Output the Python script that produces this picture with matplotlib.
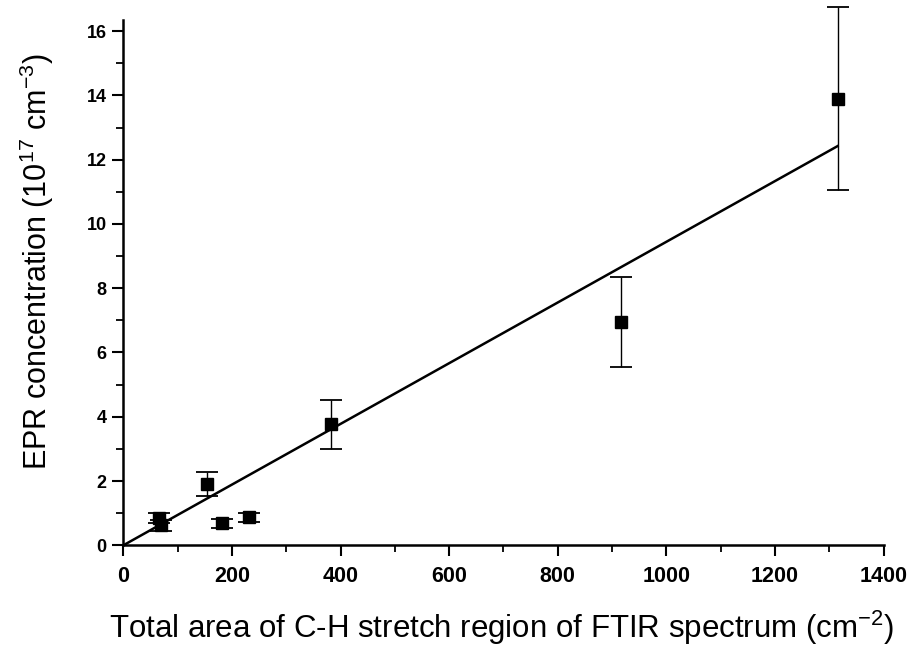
import matplotlib
matplotlib.use('Agg')
import matplotlib.pyplot as plt
from matplotlib.ticker import MultipleLocator

# data
ch_area = [65, 70, 155, 181, 231, 382, 916, 1315]
epr_conc = [0.85, 0.62, 1.90, 0.68, 0.87, 3.76, 6.95, 13.9]
epr_err = [0.17, 0.18, 0.37, 0.13, 0.15, 0.75, 1.40, 2.84]

fit_x = [0, 1315]
fit_y = [0, 12.42]

plt.rcParams['font.family'] = ['Liberation Sans', 'DejaVu Sans']
plt.rcParams['mathtext.fontset'] = 'custom'
plt.rcParams['mathtext.rm'] = 'Liberation Sans'

fig = plt.figure(figsize=(9.11, 6.5), dpi=100)
ax = fig.add_axes([0.1353, 0.161, 0.8347, 0.808])

ax.plot(fit_x, fit_y, color='black', lw=1.8, zorder=2)
ax.errorbar(ch_area, epr_conc, yerr=epr_err, fmt='s', color='black', ms=9,
            ecolor='black', elinewidth=1.0, capsize=8, capthick=1.3,
            clip_on=False, zorder=3)

ax.set_xlim(0, 1400)
ax.set_ylim(0, 16.34)

for s in ['top', 'right']:
    ax.spines[s].set_visible(False)
for s in ['left', 'bottom']:
    ax.spines[s].set_linewidth(1.8)

ax.xaxis.set_major_locator(MultipleLocator(200))
ax.xaxis.set_minor_locator(MultipleLocator(100))
ax.yaxis.set_major_locator(MultipleLocator(2))
ax.yaxis.set_minor_locator(MultipleLocator(1))
ax.tick_params(which='major', direction='out', length=8, width=1.5)
ax.tick_params(which='minor', direction='out', length=5, width=1.3)
ax.tick_params(axis='x', labelsize=15.5, pad=7)
ax.tick_params(axis='y', labelsize=13, pad=4)
for lab in ax.get_xticklabels() + ax.get_yticklabels():
    lab.set_fontweight('bold')

ax.set_xlabel(r'Total area of C-H stretch region of FTIR spectrum (cm$^{\mathregular{-2}}$)',
              fontsize=22.5)
ax.set_ylabel(r'EPR concentration (10$^{\mathregular{17}}$ cm$^{\mathregular{-3}}$)',
              fontsize=22)
ax.xaxis.set_label_coords(0.497, -0.12)
ax.yaxis.set_label_coords(-0.088, 0.541)

fig.savefig('out.png', dpi=100)
